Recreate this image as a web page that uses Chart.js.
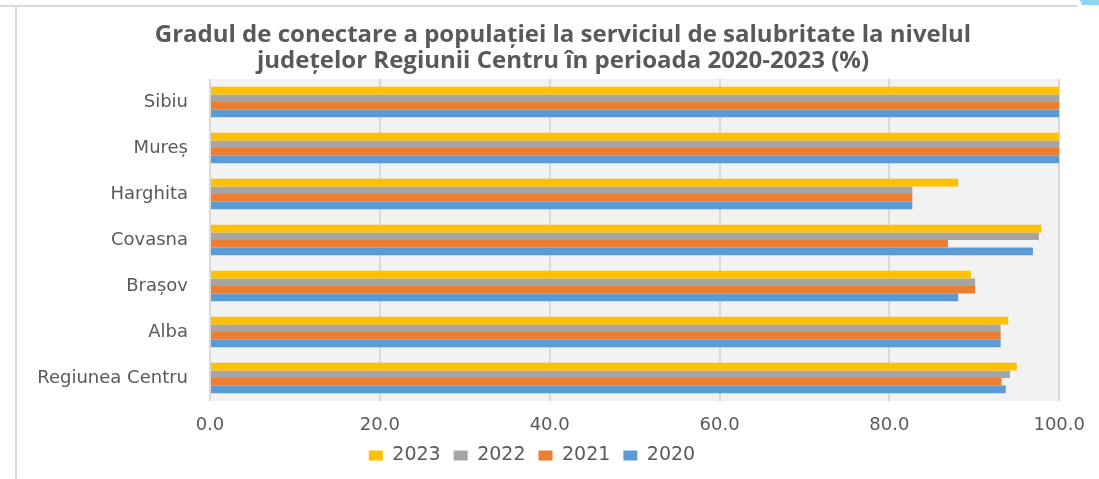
<!DOCTYPE html>
<html lang="ro">
  <head>
    <meta charset="UTF-8" />
    <style>
      html, body { margin: 0; padding: 0; background: #ffffff; }
      #wrap { width: 1099px; height: 479px; position: relative; }
    </style>
  </head>
  <body>
    <div id="wrap"><canvas id="myChart"></canvas></div>
    <script src="https://cdn.jsdelivr.net/npm/chart.js@4.4.1/dist/chart.umd.min.js"></script>

    <script>
      // judete (de sus in jos)
      var judete = ["Sibiu", "Mureș", "Harghita", "Covasna", "Brașov", "Alba", "Regiunea Centru"];

      // grad de conectare (%) pe ani
      var v2023 = [100, 100, 88.1, 97.9, 89.6, 94.0, 95.0];
      var v2022 = [100, 100, 82.7, 97.6, 90.1, 93.1, 94.2];
      var v2021 = [100, 100, 82.7, 86.9, 90.1, 93.1, 93.2];
      var v2020 = [100, 100, 82.7, 96.9, 88.1, 93.1, 93.7];

      var xTicks = [0, 20, 40, 60, 80, 100];

      var titlu = [
        "Gradul de conectare a populației la serviciul de salubritate la nivelul",
        "județelor Regiunii Centru în perioada 2020-2023 (%)"
      ];

      /* fundal gri pentru zona graficului + rama */
      var fundal = {
        id: "fundal",
        beforeDraw: function (chart) {
          var c = chart.ctx, a = chart.chartArea;
          c.save();
          c.fillStyle = "#f2f2f2";
          c.fillRect(a.left, a.top, a.right - a.left, a.bottom - a.top);
          c.strokeStyle = "#d9d9d9";
          c.lineWidth = 2;
          c.beginPath();
          c.moveTo(0, 6); c.lineTo(1078, 6);
          c.moveTo(16, 7); c.lineTo(16, 479);
          c.stroke();
          c.fillStyle = "#8dd5f2";
          c.beginPath();
          c.moveTo(1080, 0); c.lineTo(1099, 0); c.lineTo(1099, 5); c.lineTo(1082, 5);
          c.closePath();
          c.fill();
          c.restore();
        }
      };

      /* titlul, pe doua randuri, centrat putin la dreapta (ca in original) */
      var titluPlugin = {
        id: "titluPlugin",
        afterDraw: function (chart) {
          var c = chart.ctx;
          c.save();
          c.fillStyle = "#595959";
          c.font = "bold 24px 'Open Sans'";
          c.textAlign = "center";
          c.textBaseline = "middle";
          c.fillText(titlu[0], 563, 35);
          c.fillText(titlu[1], 563, 61);
          c.restore();
        }
      };

      function serie(nume, valori, culoare) {
        return {
          label: nume,
          data: valori,
          backgroundColor: culoare,
          borderWidth: 0,
          barPercentage: 1.0,
          categoryPercentage: 0.66
        };
      }

      var ctx = document.getElementById("myChart").getContext("2d");
      var chart = new Chart(ctx, {
        type: "bar",
        data: {
          labels: judete,
          datasets: [
            serie("2023", v2023, "#ffc000"),
            serie("2022", v2022, "#a5a5a5"),
            serie("2021", v2021, "#ed7d31"),
            serie("2020", v2020, "#5b9bd5")
          ]
        },
        options: {
          indexAxis: "y",
          responsive: true,
          maintainAspectRatio: false,
          animation: false,
          layout: { padding: { left: 0, right: 35, top: 79, bottom: 4 } },
          plugins: {
            title: { display: false },
            legend: {
              position: "bottom",
              labels: {
                color: "#595959",
                font: { family: "'DejaVu Sans'", size: 19 },
                boxWidth: 14,
                boxHeight: 10,
                padding: 13
              }
            },
            tooltip: { enabled: false }
          },
          scales: {
            x: {
              min: 0,
              max: 100,
              afterBuildTicks: function (axis) {
                axis.ticks = xTicks.map(function (v) { return { value: v }; });
              },
              afterFit: function (axis) { axis.height = 32; },
              grid: { color: "#d9d9d9", lineWidth: 2, drawTicks: false },
              border: { display: false },
              ticks: {
                color: "#595959",
                font: { family: "'DejaVu Sans'", size: 18 },
                padding: 14,
                maxRotation: 0,
                callback: function (v) { return Number(v).toFixed(1); }
              }
            },
            y: {
              afterFit: function (axis) { axis.width = 210; },
              grid: { display: false, drawTicks: false },
              border: { display: false },
              ticks: {
                color: "#595959",
                font: { family: "'DejaVu Sans'", size: 18 },
                padding: 22
              }
            }
          }
        },
        plugins: [fundal, titluPlugin]
      });
    </script>
  </body>
</html>
